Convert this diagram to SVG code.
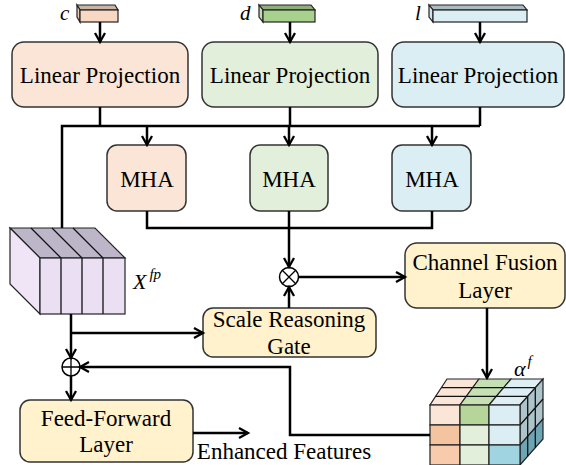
<svg xmlns="http://www.w3.org/2000/svg" width="566" height="465" viewBox="0 0 566 465">
<style>
.box{stroke:#333;stroke-width:1.5}
.ln{fill:none;stroke:#000;stroke-width:2.5}
.arr{marker-end:url(#ah)}
.c{stroke:#222;stroke-width:1.2}
.g{fill:none;stroke:#111;stroke-width:1.3}
</style>
<defs>
<marker id="ah" markerUnits="userSpaceOnUse" markerWidth="14" markerHeight="14" refX="10" refY="6" orient="auto">
<path d="M1,1 L10,6 L1,11" fill="none" stroke="#000" stroke-width="2.3"/>
</marker>
</defs>

<g id="input-c">
<polygon class="c" points="77,5 115,5 118,10 80,10" fill="#c9b5a6"/>
<polygon class="c" points="77,5 80,10 80,22 77,17" fill="#e8cdb9"/>
<rect class="c" x="80" y="10" width="38" height="12" fill="#f8d8c2"/>
<text font-family="Liberation Serif" font-style="italic" x="60" y="20" font-size="21">c</text>
</g>
<g id="input-d">
<polygon class="c" points="259,5 311,5 315,10 263,10" fill="#8fae7a"/>
<polygon class="c" points="259,5 263,10 263,22 259,17" fill="#c5dcb4"/>
<rect class="c" x="263" y="10" width="52" height="12" fill="#a9d18e"/>
<text font-family="Liberation Serif" font-style="italic" x="240" y="20" font-size="21">d</text>
</g>
<g id="input-l">
<polygon class="c" points="429,5 523,5 527,10 433,10" fill="#a8bcc2"/>
<polygon class="c" points="429,5 433,10 433,22 429,17" fill="#d0e4ea"/>
<rect class="c" x="433" y="10" width="94" height="12" fill="#daeef3"/>
<text font-family="Liberation Serif" font-style="italic" x="415" y="20" font-size="21">l</text>
</g>

<g id="lp1"><rect class="box" x="12" y="42" width="176" height="65" rx="12" fill="#fbe5d6"/><text font-family="Liberation Serif" font-size="23" text-anchor="middle" x="100" y="83">Linear Projection</text></g>
<g id="lp2"><rect class="box" x="202" y="42" width="176" height="65" rx="12" fill="#e2efda"/><text font-family="Liberation Serif" font-size="23" text-anchor="middle" x="290" y="83">Linear Projection</text></g>
<g id="lp3"><rect class="box" x="392" y="42" width="172" height="65" rx="12" fill="#daeef3"/><text font-family="Liberation Serif" font-size="23" text-anchor="middle" x="478" y="83">Linear Projection</text></g>

<g id="mha1"><rect class="box" x="107" y="145" width="79" height="66" rx="10" fill="#fbe5d6"/><text font-family="Liberation Serif" font-size="23" text-anchor="middle" x="147" y="187">MHA</text></g>
<g id="mha2"><rect class="box" x="250" y="145" width="78" height="66" rx="10" fill="#e2efda"/><text font-family="Liberation Serif" font-size="23" text-anchor="middle" x="289" y="187">MHA</text></g>
<g id="mha3"><rect class="box" x="392" y="145" width="79" height="66" rx="10" fill="#daeef3"/><text font-family="Liberation Serif" font-size="23" text-anchor="middle" x="432" y="187">MHA</text></g>

<g id="xfp">
<polygon class="c" points="10,228 95,228 125,258 40,258" fill="#bdb5c8"/>
<polygon class="c" points="10,228 40,258 40,314 10,284" fill="#efe5f6"/>
<rect class="c" x="40" y="258" width="85" height="56" fill="#ebe0f3"/>
<path class="g" d="M61,258V314M82,258V314M103,258V314M31,228L61,258M52,228L82,258M73,228L103,258"/>
<text font-family="Liberation Serif" font-style="italic" x="133" y="289" font-size="22">X<tspan font-size="15" dx="3" dy="-10">fp</tspan></text>
</g>

<g id="mul">
<circle cx="289" cy="277" r="9.5" fill="#fff" stroke="#000" stroke-width="1.5"/>
<path d="M282.3,270.3L295.7,283.7M295.7,270.3L282.3,283.7" stroke="#000" stroke-width="1.3"/>
</g>

<g id="cfl"><rect class="box" x="405" y="243" width="160" height="65" rx="12" fill="#fff2cc"/><text font-family="Liberation Serif" font-size="23" text-anchor="middle" x="485" y="270">Channel Fusion</text><text font-family="Liberation Serif" font-size="23" text-anchor="middle" x="485" y="298">Layer</text></g>
<g id="srg"><rect class="box" x="203" y="308" width="173" height="49" rx="10" fill="#fff2cc"/><text font-family="Liberation Serif" font-size="23" text-anchor="middle" x="289" y="327">Scale Reasoning</text><text font-family="Liberation Serif" font-size="23" text-anchor="middle" x="289" y="354">Gate</text></g>

<g id="add">
<circle cx="71" cy="367" r="9" fill="#fff" stroke="#000" stroke-width="1.5"/>
<path d="M62,367H80M71,358V376" stroke="#000" stroke-width="1.3"/>
</g>

<g id="ffl"><rect class="box" x="20" y="400" width="173" height="62" rx="10" fill="#fff2cc"/><text font-family="Liberation Serif" font-size="23" text-anchor="middle" x="106" y="426">Feed-Forward</text><text font-family="Liberation Serif" font-size="23" text-anchor="middle" x="106" y="452">Layer</text></g>

<g id="alpha">
<polygon class="c" points="430,405 460,405 479,379 447,379" fill="#fbe5d6"/>
<polygon class="c" points="460,405 489,405 511,379 479,379" fill="#c5e0b3"/>
<polygon class="c" points="489,405 520,405 543,379 511,379" fill="#deeef5"/>
<path class="g" d="M435.7,396.3H527.7M441.3,387.7H535.3"/>
<polygon class="c" points="520,405 543,379 543,419 520,445" fill="#adc4cb"/>
<polygon class="c" points="520,445 543,419 543,439 520,465" fill="#6ea5b5"/>
<path class="g" d="M520,425L543,399M527.7,396.3V456.3M535.3,387.7V447.7"/>
<rect x="430" y="405" width="30" height="20" class="c" fill="#fbe5d6"/>
<rect x="460" y="405" width="29" height="20" class="c" fill="#b5d59a"/>
<rect x="489" y="405" width="31" height="20" class="c" fill="#daeef3"/>
<rect x="430" y="425" width="30" height="20" class="c" fill="#f4c3a0"/>
<rect x="460" y="425" width="29" height="20" class="c" fill="#e2efda"/>
<rect x="489" y="425" width="31" height="20" class="c" fill="#daeef3"/>
<rect x="430" y="445" width="30" height="20" class="c" fill="#f8cbad"/>
<rect x="460" y="445" width="29" height="20" class="c" fill="#e2efda"/>
<rect x="489" y="445" width="31" height="20" class="c" fill="#9fd4e0"/>
<text font-family="Liberation Serif" font-style="italic" x="514" y="376" font-size="22">α<tspan font-size="15" dx="2" dy="-10">f</tspan></text>
</g>

<text font-family="Liberation Serif" font-size="23" text-anchor="middle" x="284" y="459">Enhanced Features</text>

<g id="connectors">
<path class="ln arr" d="M100,22V42"/>
<path class="ln arr" d="M290,22V42"/>
<path class="ln arr" d="M480,22V42"/>
<path class="ln" d="M100,107V126M480,107V126M62,228V126H480M290,107V126"/>
<path class="ln arr" d="M147,126V145"/>
<path class="ln arr" d="M289,126V145"/>
<path class="ln arr" d="M432,126V145"/>
<path class="ln" d="M147,211V228H432V211"/>
<path class="ln arr" d="M289,211V267"/>
<path class="ln arr" d="M289,308V287"/>
<path class="ln arr" d="M298.5,277H405"/>
<path class="ln arr" d="M487,308V378"/>
<path class="ln arr" d="M71,314V358"/>
<path class="ln arr" d="M71,333H203"/>
<path class="ln arr" d="M71,376V400"/>
<path class="ln arr" d="M430,435H290V367H80"/>
<path class="ln arr" d="M193,433H248"/>
</g>
</svg>
